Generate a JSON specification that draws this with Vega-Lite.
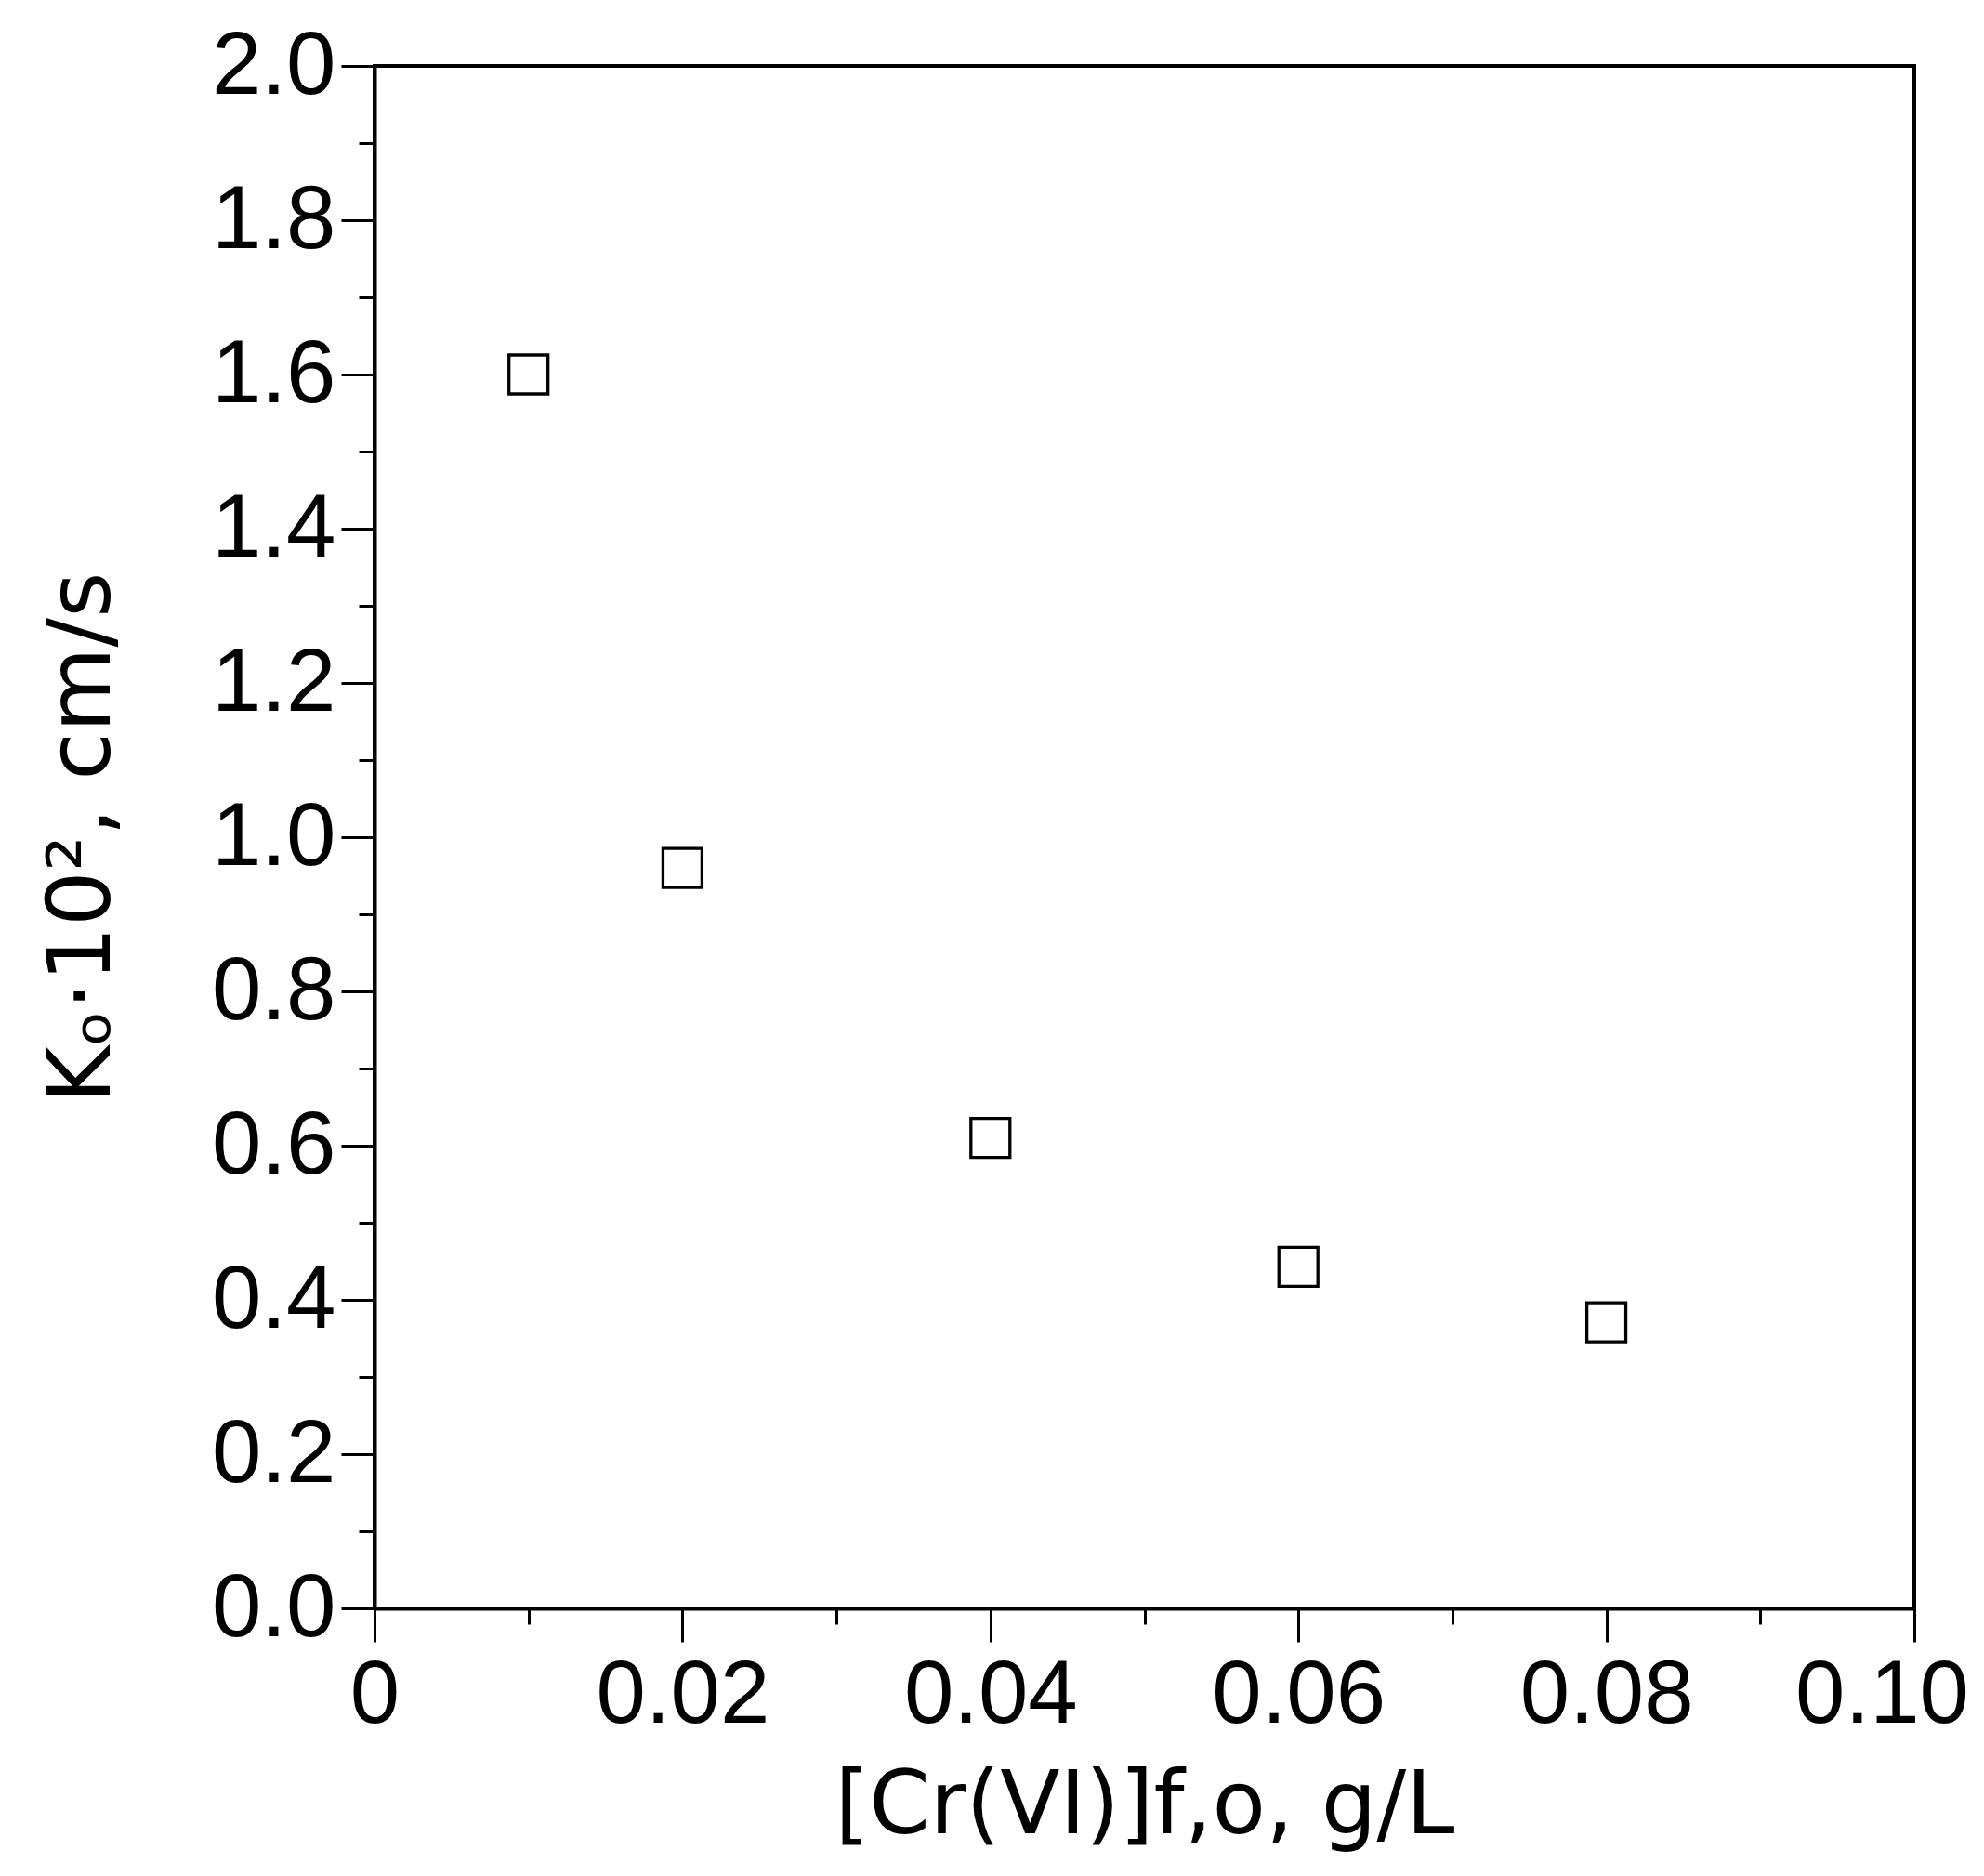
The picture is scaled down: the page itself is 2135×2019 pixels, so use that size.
{
  "$schema": "https://vega.github.io/schema/vega-lite/v6.json",
  "width": 1657,
  "height": 1660,
  "autosize": "none",
  "padding": {"left": 403, "top": 71, "right": 75, "bottom": 288},
  "background": "white",
  "config": {
    "view": {"stroke": "black", "strokeWidth": 4},
    "axis": {
      "domainColor": "black",
      "domainWidth": 4,
      "tickColor": "black",
      "tickWidth": 3,
      "labelColor": "black",
      "titleColor": "black",
      "labelFont": "Liberation Sans",
      "titleFont": "DejaVu Sans",
      "labelFontSize": 96,
      "titleFontSize": 94,
      "titleFontWeight": "normal",
      "labelLimit": 0,
      "titleLimit": 0,
      "grid": false
    }
  },
  "data": {
    "values": [
      {"conc": 0.01, "k": 1.60},
      {"conc": 0.02, "k": 0.96},
      {"conc": 0.04, "k": 0.61},
      {"conc": 0.06, "k": 0.443},
      {"conc": 0.08, "k": 0.371}
    ]
  },
  "layer": [
    {
      "mark": {"type": "point", "shape": "square", "filled": false, "stroke": "black", "strokeWidth": 3.3, "size": 1760, "opacity": 1},
      "encoding": {
        "x": {
          "field": "conc", "type": "quantitative",
          "scale": {"domain": [0, 0.1], "nice": false, "zero": true},
          "axis": {
            "orient": "bottom",
            "values": [0, 0.02, 0.04, 0.06, 0.08, 0.1],
            "labelExpr": "datum.value == 0 ? '0' : format(datum.value, '.2f')",
            "tickSize": 36,
            "labelPadding": 10,
            "labelFlush": false,
            "labelOverlap": false,
            "labelOffset": {"condition": {"test": "datum.value > 0.09", "value": -35}, "value": 0},
            "title": "[Cr(VI)]f,o,  g/L",
            "titlePadding": 26
          }
        },
        "y": {
          "field": "k", "type": "quantitative",
          "scale": {"domain": [0, 2], "nice": false, "zero": true},
          "axis": {
            "orient": "left",
            "values": [0, 0.2, 0.4, 0.6, 0.8, 1.0, 1.2, 1.4, 1.6, 1.8, 2.0],
            "format": ".1f",
            "tickSize": 36,
            "labelPadding": 6,
            "labelFlush": false,
            "labelOverlap": false,
            "title": "Kₒ·10², cm/s",
            "titlePadding": 90
          }
        }
      }
    },
    {
      "mark": {"type": "point", "opacity": 0},
      "encoding": {
        "x": {
          "field": "conc", "type": "quantitative",
          "scale": {"domain": [0, 0.1], "nice": false, "zero": true},
          "axis": {
            "orient": "bottom",
            "values": [0.01, 0.03, 0.05, 0.07, 0.09],
            "tickSize": 17,
            "labels": false,
            "domain": false,
            "title": null
          }
        },
        "y": {
          "field": "k", "type": "quantitative",
          "scale": {"domain": [0, 2], "nice": false, "zero": true},
          "axis": {
            "orient": "left",
            "values": [0.1, 0.3, 0.5, 0.7, 0.9, 1.1, 1.3, 1.5, 1.7, 1.9],
            "tickSize": 17,
            "labels": false,
            "domain": false,
            "title": null
          }
        }
      }
    }
  ],
  "resolve": {"axis": {"x": "independent", "y": "independent"}}
}
